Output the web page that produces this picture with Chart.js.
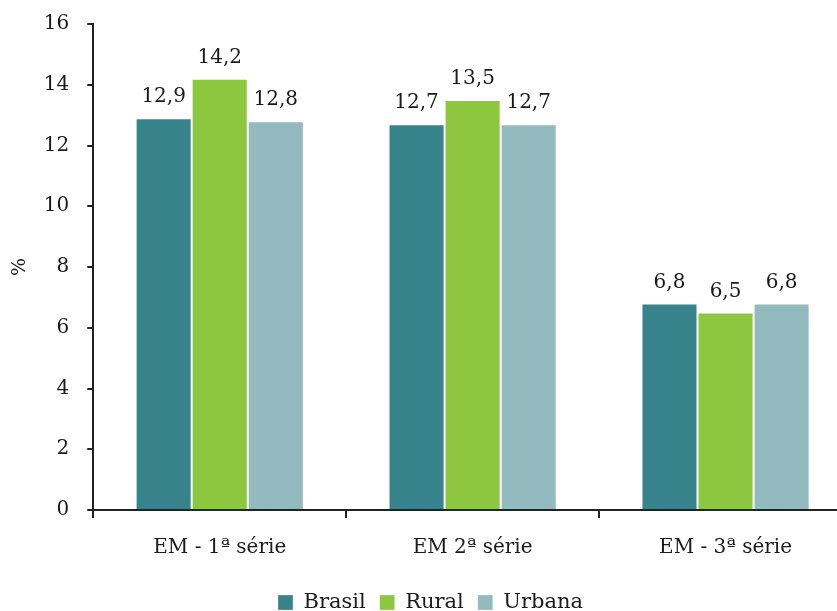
<!DOCTYPE html>
<html lang="pt">
<head>
    <meta charset="UTF-8">
    <title>Taxa por série</title>
    <script src="https://cdn.jsdelivr.net/npm/chart.js@4"></script>
    <style>
        html, body { margin: 0; padding: 0; background: #fff; overflow: hidden; }
        #wrap { width: 837px; height: 611px; overflow: hidden; }
        #serieChart { display: block; margin-top: -6px; }
    </style>
</head>
<body>
    <div id="wrap">
        <canvas id="serieChart" width="852" height="629"></canvas>
    </div>
<script>
  // Categories and series
  const categorias = ['EM - 1ª série', 'EM 2ª série', 'EM - 3ª série'];
  const brasil = [12.9, 12.7, 6.8];
  const rural = [14.2, 13.5, 6.5];
  const urbana = [12.8, 12.7, 6.8];
  const yTicks = [0, 2, 4, 6, 8, 10, 12, 14, 16];

  const fonte = 'DejaVu Serif';
  const corTexto = '#1a1a1a';

  // Write the value above each bar, with a decimal comma
  const rotulos = {
    id: 'rotulos',
    afterDatasetsDraw(chart) {
      const ctx = chart.ctx;
      ctx.save();
      ctx.font = '20px "' + fonte + '"';
      ctx.fillStyle = corTexto;
      ctx.textAlign = 'center';
      ctx.textBaseline = 'bottom';
      chart.data.datasets.forEach((ds, i) => {
        chart.getDatasetMeta(i).data.forEach((bar, j) => {
          const txt = ds.data[j].toFixed(1).replace('.', ',');
          ctx.fillText(txt, bar.x, bar.y - 11);
        });
      });
      ctx.restore();
    }
  };

  const ctx = document.getElementById('serieChart').getContext('2d');

  new Chart(ctx, {
    type: 'bar',
    data: {
      labels: categorias,
      datasets: [
        { label: 'Brasil', data: brasil, backgroundColor: '#36838c' },
        { label: 'Rural', data: rural, backgroundColor: '#8dc63f' },
        { label: 'Urbana', data: urbana, backgroundColor: '#93babe' }
      ].map(d => Object.assign(d, {
        borderColor: 'rgba(255,255,255,0.3)',
        borderWidth: 1,
        categoryPercentage: 0.665,
        barPercentage: 1
      }))
    },
    options: {
      responsive: false,
      animation: false,
      layout: { padding: { top: 10, left: 9, right: 0, bottom: 0 } },
      plugins: {
        legend: {
          position: 'bottom',
          labels: {
            boxWidth: 15,
            boxHeight: 15,
            padding: 14,
            color: corTexto,
            font: { family: fonte, size: 21 }
          }
        },
        tooltip: { enabled: false }
      },
      scales: {
        x: {
          offset: true,
          grid: {
            offset: true,
            drawOnChartArea: false,
            drawTicks: true,
            tickLength: 8,
            color: '#222',
            lineWidth: 2
          },
          border: { color: '#222', width: 2 },
          ticks: {
            color: corTexto,
            padding: 18,
            font: { family: fonte, size: 20 }
          }
        },
        y: {
          min: 0,
          max: 16,
          afterBuildTicks: axis => { axis.ticks = yTicks.map(v => ({ value: v })); },
          grid: {
            drawOnChartArea: false,
            tickLength: 6,
            color: '#222',
            lineWidth: 2
          },
          border: { color: '#222', width: 2 },
          ticks: {
            color: corTexto,
            padding: 18,
            font: { family: fonte, size: 20 }
          },
          title: {
            display: true,
            text: '%',
            color: corTexto,
            padding: { top: 0, bottom: -6 },
            font: { family: fonte, size: 19 }
          }
        }
      }
    },
    plugins: [rotulos]
  });
</script>
</body>
</html>
